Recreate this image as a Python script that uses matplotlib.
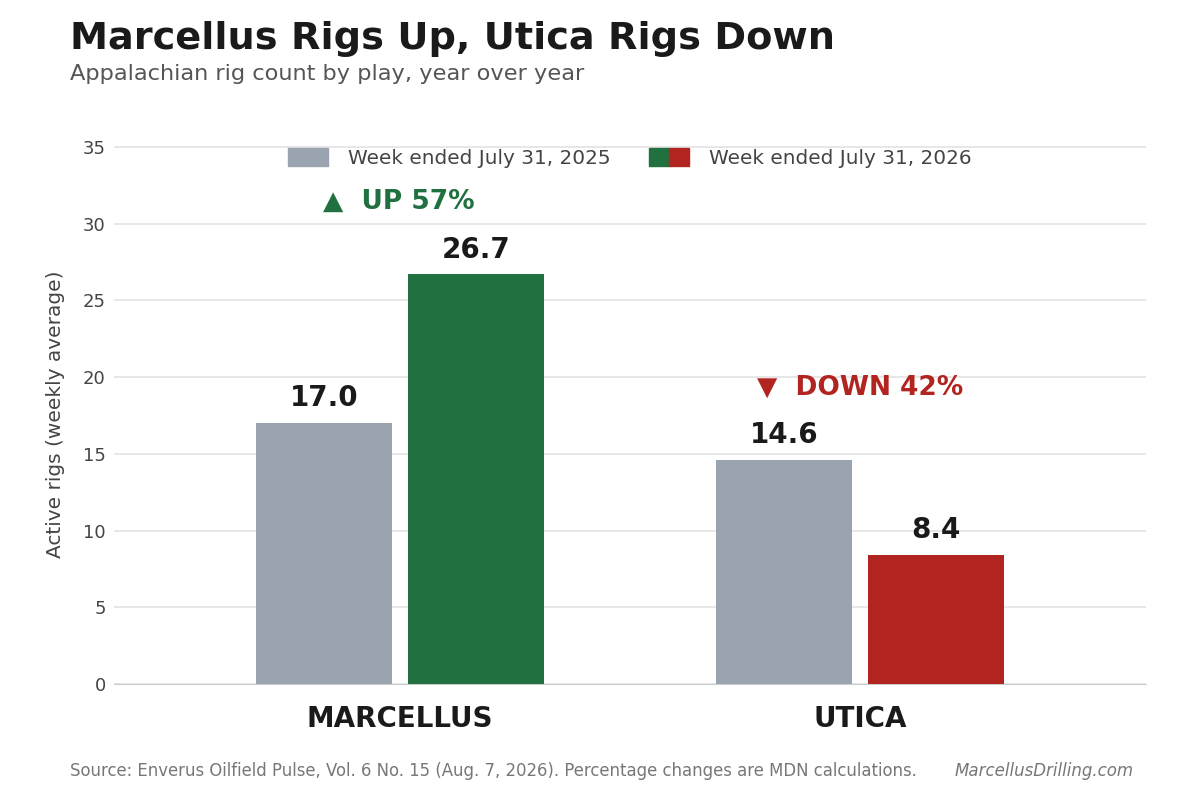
import matplotlib
matplotlib.use("Agg")
import matplotlib.pyplot as plt
import numpy as np
from matplotlib.patches import Patch
from matplotlib.legend_handler import HandlerTuple

# data
plays = ["MARCELLUS", "UTICA"]
rigs_2025 = [17.0, 14.6]
rigs_2026 = [26.7, 8.4]
pct_change = ["UP 57%", "DOWN 42%"]

GRAY = "#9AA4B0"
GREEN = "#207040"
RED = "#B22420"
new_colors = [GREEN, RED]

fig = plt.figure(figsize=(12, 8), dpi=100)
ax = fig.add_axes([0.095, 0.145, 0.86, 0.675])

x = np.arange(len(plays))
w = 0.296
off = 0.165

ax.bar(x - off, rigs_2025, w, color=GRAY, zorder=3)
ax.bar(x + off, rigs_2026, w, color=new_colors, zorder=3)

for i in range(len(plays)):
    ax.text(x[i] - off, rigs_2025[i] + 0.7, f"{rigs_2025[i]:.1f}", ha="center", va="bottom",
            fontsize=20, fontweight="bold", color="#1a1a1a")
    ax.text(x[i] + off, rigs_2026[i] + 0.7, f"{rigs_2026[i]:.1f}", ha="center", va="bottom",
            fontsize=20, fontweight="bold", color="#1a1a1a")

# change annotations
ax.text(x[0] - 0.002, 31.4, "\u25B2  " + pct_change[0], ha="center", va="center",
        fontsize=19, fontweight="bold", color=GREEN)
ax.text(x[1], 19.3, "\u25BC  " + pct_change[1], ha="center", va="center",
        fontsize=19, fontweight="bold", color=RED)

ax.set_xlim(-0.622, 1.622)
ax.set_ylim(0, 35.2)
ax.set_yticks(np.arange(0, 36, 5))
ax.set_xticks(x)
ax.set_xticklabels(plays, fontsize=20, fontweight="bold", color="#1a1a1a")
ax.tick_params(axis="x", length=0, pad=15)
ax.tick_params(axis="y", length=0, labelsize=13, labelcolor="#444444", pad=6)
ax.grid(axis="y", color="#e3e3e3", linewidth=1.2, zorder=0)
for s in ["top", "right", "left"]:
    ax.spines[s].set_visible(False)
ax.spines["bottom"].set_color("#cccccc")
ax.set_ylabel("Active rigs (weekly average)", fontsize=14.5, color="#444444", labelpad=13)

handles = [Patch(color=GRAY), (Patch(color=GREEN), Patch(color=RED))]
labels = ["Week ended July 31, 2025", "Week ended July 31, 2026"]
leg = ax.legend(handles, labels, handler_map={tuple: HandlerTuple(ndivide=None, pad=0)},
                loc="upper center", bbox_to_anchor=(0.5, 1.025), ncol=2, frameon=False,
                fontsize=14.4, handlelength=2.0, handleheight=1.0, columnspacing=1.9,
                handletextpad=1.0, labelcolor="#444444")

fig.text(0.058, 0.951, "Marcellus Rigs Up, Utica Rigs Down", fontsize=27.5, fontweight="bold",
         color="#1a1a1a", va="center")
fig.text(0.058, 0.908, "Appalachian rig count by play, year over year", fontsize=16.2,
         color="#555555", va="center")
fig.text(0.058, 0.036, "Source: Enverus Oilfield Pulse, Vol. 6 No. 15 (Aug. 7, 2026). Percentage changes are MDN calculations.",
         fontsize=11.9, color="#777777", va="center")
fig.text(0.945, 0.036, "MarcellusDrilling.com", fontsize=12, color="#777777",
         style="italic", ha="right", va="center")

fig.savefig("out.png", dpi=100)
